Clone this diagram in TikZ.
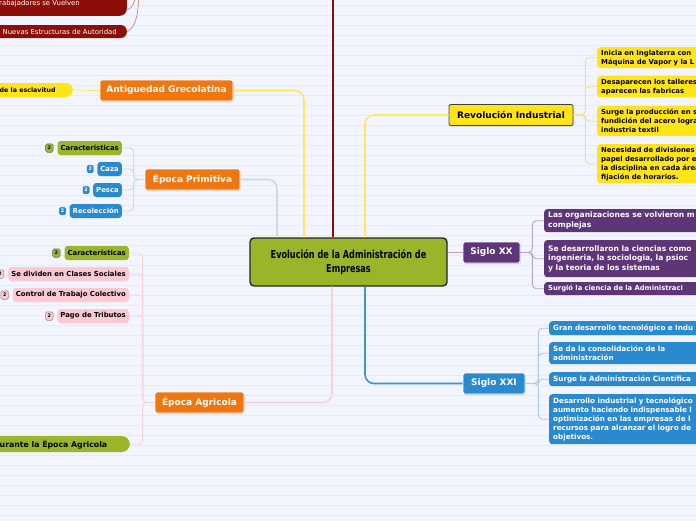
\documentclass[tikz,border=0pt]{standalone}
\usepackage{fontspec}
\setmainfont{DejaVu Sans}
\newfontfamily\condfont[FakeStretch=0.74]{DejaVu Sans}
\usetikzlibrary{shadows}
\definecolor{bg}{HTML}{F2F5FE}
\definecolor{bgline}{HTML}{E8EBF6}
\definecolor{olive}{HTML}{9BB52B}
\definecolor{orng}{HTML}{EE7711}
\definecolor{yel}{HTML}{FFE41A}
\definecolor{yelline}{HTML}{FFE85A}
\definecolor{yelbr}{HTML}{F3E09A}
\definecolor{purp}{HTML}{5E3576}
\definecolor{purpline}{HTML}{B8A4C8}
\definecolor{blu}{HTML}{2A8AD0}
\definecolor{bluline}{HTML}{3C94D6}
\definecolor{blubr}{HTML}{A8CCE8}
\definecolor{pnk}{HTML}{FCC8D2}
\definecolor{pnkline}{HTML}{FAD2DC}
\definecolor{drd}{HTML}{8B0E08}
\definecolor{drdline}{HTML}{D08A8A}
\definecolor{greyline}{HTML}{D4D8E0}
\newcommand\fsA{\fontsize{9pt}{10pt}\selectfont\bfseries}
\newcommand\fsB{\fontsize{6.9pt}{9pt}\selectfont\bfseries}
\newcommand\fsE{\fontsize{6.3pt}{9pt}\selectfont\bfseries}
\newcommand\fsC{\fontsize{6.9pt}{9pt}\selectfont}
\newcommand\fsP{\fontsize{7.6pt}{9.7pt}\selectfont\bfseries}
\newcommand\fsQ{\fontsize{6.8pt}{9pt}\selectfont\bfseries}
\newcommand\fsS{\fontsize{7.2pt}{9pt}\selectfont\bfseries}
\newcommand\fsBig{\fontsize{7.8pt}{9pt}\selectfont\bfseries}
\tikzset{
  topic/.style={draw=white, line width=0.8pt, fill=orng, text=white, font=\fsA,
    rounded corners=2pt, minimum height=21pt, inner sep=0pt,
    drop shadow={shadow xshift=0.6pt, shadow yshift=-1pt, opacity=0.35}},
  leaf/.style={rounded corners=3pt, font=\fsB, inner xsep=3pt, inner ysep=0pt, minimum height=14pt},
  badge/.style={rounded corners=1.5pt, minimum width=7.5pt, minimum height=8.5pt, inner sep=0pt,
    font=\fontsize{4.8pt}{5pt}\selectfont\bfseries, line width=0.5pt},
  rleaf/.style={rounded corners=3pt, anchor=north west, text width=170pt, align=left,
    inner xsep=4pt, inner ysep=2pt, font=\fsB},
  conn/.style={line width=1.6pt, rounded corners=9pt},
  br/.style={line width=0.9pt, rounded corners=4pt},
}
\begin{document}
\begin{tikzpicture}[x=1pt,y=-1pt]
\useasboundingbox (0,0) rectangle (696,520);
\clip (0,0) rectangle (696,520);
\fill[bg] (-5,-5) rectangle (701,525);
\foreach \k in {0,...,51} {\draw[bgline, line width=0.5pt] (0,5+10*\k) -- (696,5+10*\k);}

% central node
\node[draw=black!85, line width=1.4pt, fill=olive, rounded corners=4pt,
  minimum width=197pt, minimum height=48pt, align=center,
  font=\condfont\bfseries\fontsize{11pt}{14.5pt}\selectfont] (cen) at (348.5,262)
  {Evolución de la Administración de\\Empresas};

% named free ends / bends
\coordinate (antx) at (304,0);
\coordinate (epx) at (277,0);
\coordinate (agx) at (332,0);
\coordinate (revx) at (365,0);
\coordinate (topx) at (333,-5);

% dark red line to top
\draw[drd, line width=2.2pt] (cen.north -| topx) -- (topx);

% top-left dark red nodes
\node[fill=drd, rounded corners=7pt, anchor=south east, minimum width=150pt, minimum height=40pt] (n1) at (127,16) {};
\node[anchor=base west, text=white, font=\fsC, inner sep=0pt] (n1t) at (-1,5.3) {rabajadores se Vuelven};
\node[fill=drd, rounded corners=6pt, anchor=east, minimum width=150pt, minimum height=13pt] (n2) at (127,31.5) {};
\node[anchor=west, text=white, font=\fsC, inner sep=0pt] (n2t) at (2.5,31.8) {Nuevas Estructuras de Autoridad};
\coordinate (c1) at (135,-5);
\coordinate (c2) at (139,-5);
\draw[drdline, line width=0.7pt] (n1.east |- 0,10) .. controls (133,8) and (135,2) .. (c1);
\draw[drdline, line width=0.7pt] (n2.east) .. controls (137,28) and (138,10) .. (c2);

% Antiguedad Grecolatina
\node[topic, minimum width=133pt] (ant) at (166.5,90.5) {Antiguedad Grecolatina};
\node[fill=yel, rounded corners=7pt, anchor=east, minimum width=90pt, minimum height=14pt] (escl) at (73,90) {};
\node[anchor=west, font=\fsE, inner sep=0pt] (esclt) at (-0.5,90.3) {de la esclavitud};
\draw[yelline, line width=0.9pt] (escl.east) -- (ant.west);
\draw[yelline, conn] (ant.east) -| (cen.north -| antx);

% Epoca Primitiva
\node[topic, minimum width=95pt] (ep) at (192.5,179.5) {Época Primitiva};
\draw[greyline, conn] (ep.east) -| (cen.north -| epx);
\node[leaf, fill=olive, anchor=east] (ep1) at (122,148) {Caracteristicas};
\node[leaf, fill=blu, text=white, anchor=east] (ep2) at (122,169) {Caza};
\node[leaf, fill=blu, text=white, anchor=east] (ep3) at (122,190) {Pesca};
\node[leaf, fill=blu, text=white, anchor=east] (ep4) at (122,211) {Recolección};
\node[badge, fill=olive, draw=black!60] (b1) at ([xshift=-8pt]ep1.west) {2};
\node[badge, fill=blu, draw=white, text=white] (b2) at ([xshift=-7pt]ep2.west) {2};
\node[badge, fill=blu, draw=white, text=white] (b3) at ([xshift=-7pt]ep3.west) {2};
\node[badge, fill=blu, draw=white, text=white] (b4) at ([xshift=-7pt]ep4.west) {2};
\foreach \c in {ep1,ep2,ep3,ep4} {\draw[greyline, br] (ep.west) -- ++(-11,0) |- (\c.east);}

% Epoca Agricola
\node[topic, minimum width=89pt] (ag) at (199.5,402.5) {Época Agricola};
\draw[pnkline, conn] (ag.east) -| (cen.south -| agx);
\node[leaf, fill=olive, anchor=east] (ag1) at (129,253) {Caracteristicas};
\node[leaf, fill=pnk, anchor=east] (ag2) at (129,274) {Se dividen en Clases Sociales};
\node[leaf, fill=pnk, anchor=east] (ag3) at (129,295) {Control de Trabajo Colectivo};
\node[leaf, fill=pnk, anchor=east] (ag4) at (129,316) {Pago de Tributos};
\node[badge, fill=olive, draw=black!60] (b5) at ([xshift=-8pt]ag1.west) {2};
\node[badge, fill=pnk, draw=black!45] (b6) at ([xshift=-8pt]ag2.west) {2};
\node[badge, fill=pnk, draw=black!45] (b7) at ([xshift=-8pt]ag3.west) {2};
\node[badge, fill=pnk, draw=black!45] (b8) at ([xshift=-8pt]ag4.west) {2};
\node[fill=olive, rounded corners=8pt, anchor=east, minimum width=150pt, minimum height=16pt] (ag5) at (130,444) {};
\node[anchor=west, font=\fsBig, inner sep=0pt] (ag5t) at (-0.5,444.3) {urante la Época Agricola};
\foreach \c in {ag1,ag2,ag3,ag4,ag5} {\draw[pnkline, br] (ag.west) -- ++(-12,0) |- (\c.east);}

% Revolucion Industrial
\node[topic, draw=black!75, fill=yel, text=black, minimum width=124pt] (rev) at (511,115) {Revolución Industrial};
\draw[yelline, conn] (cen.north -| revx) |- (rev.west);
\node[rleaf, fill=yel, minimum height=21pt] (r1) at (597,47) {Inicia en Inglaterra con\\Máquina de Vapor y la L};
\node[rleaf, fill=yel, minimum height=21pt] (r2) at (597,76) {Desaparecen los talleres\\aparecen las fabricas};
\node[rleaf, fill=yel, minimum height=30pt] (r3) at (597,106) {Surge la producción en s\\fundición del acero logra\\industria textil};
\node[rleaf, fill=yel, minimum height=39pt] (r4) at (597,144) {Necesidad de divisiones\\papel desarrollado por e\\la disciplina en cada área\\fijación de horarios.};
\foreach \c in {r1,r2,r3,r4} {\draw[yelbr, br] (rev.east) -- ++(12,0) |- (\c.west);}

% Siglo XX
\node[topic, fill=purp, draw=white, minimum width=57pt] (sxx) at (491.5,252.5) {Siglo XX};
\draw[purpline, line width=1.2pt] (cen.east |- sxx.west) -- (sxx.west);
\node[rleaf, fill=purp, text=white, font=\fsP, minimum height=23pt] (p1) at (544,209) {Las organizaciones se volvieron m\\complejas};
\node[rleaf, fill=purp, text=white, font=\fsP, minimum height=37pt] (p2) at (544,240) {Se desarrollaron la ciencias como\\ingenieria, la sociologia, la psioc\\y la teoria de los sistemas};
\node[rleaf, fill=purp, text=white, font=\fsQ, minimum height=13pt] (p3) at (544,282) {Surgió la ciencia de la Administraci};
\foreach \c in {p1,p2,p3} {\draw[purpline, br] (sxx.east) -- ++(12,0) |- (\c.west);}

% Siglo XXI
\node[topic, fill=blu, draw=white, minimum width=62pt] (sxxi) at (494,383.5) {Siglo XXI};
\draw[bluline, conn] (cen.south -| revx) |- (sxxi.west);
\node[rleaf, fill=blu, text=white, font=\fsS, minimum height=14pt] (s1) at (549,321) {Gran desarrollo tecnológico e Indu};
\node[rleaf, fill=blu, text=white, font=\fsS, minimum height=22pt] (s2) at (549,342) {Se da la consolidación de la\\administración};
\node[rleaf, fill=blu, text=white, font=\fsS, minimum height=14pt] (s3) at (549,372) {Surge la Administración Científica};
\node[rleaf, fill=blu, text=white, font=\fsS, minimum height=50pt] (s4) at (549,394) {Desarrollo industrial y tecnológico\\aumento haciendo indispensable l\\optimización en las empresas de l\\recursos para alcanzar el logro de\\objetivos.};
\foreach \c in {s1,s2,s3,s4} {\draw[blubr, br] (sxxi.east) -- ++(13,0) |- (\c.west);}
\end{tikzpicture}
\end{document}
